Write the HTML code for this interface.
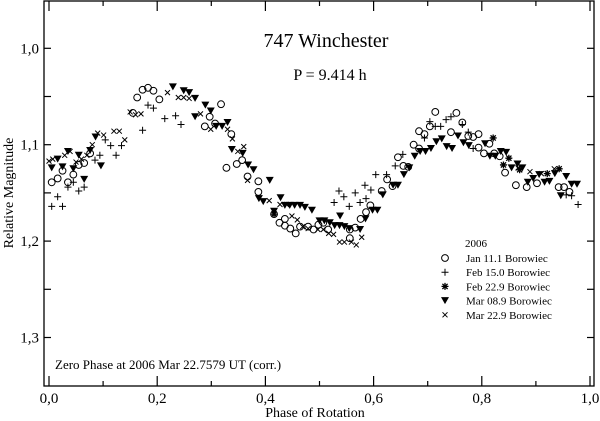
<!DOCTYPE html>
<html><head><meta charset="utf-8">
<style>
html,body{margin:0;padding:0;background:#fff;}
svg{display:block;font-family:"Liberation Serif",serif;}
</style></head>
<body>
<svg id="chart" width="600" height="421" viewBox="0 0 600 421" xmlns="http://www.w3.org/2000/svg">
<g id="axes"></g>
<g id="marks"></g>
<text x="326" y="47" font-size="20" text-anchor="middle">747 Winchester</text>
<text x="330" y="80" font-size="16" text-anchor="middle">P = 9.414 h</text>
<text x="55" y="369" font-size="13">Zero Phase at 2006 Mar 22.7579 UT (corr.)</text>
<text x="315" y="417" font-size="14" text-anchor="middle">Phase of Rotation</text>
<text transform="translate(13,193) rotate(-90)" font-size="14" text-anchor="middle">Relative Magnitude</text>
<g id="legend"></g>
</svg>
<script>
const xTicks=[0,0.2,0.4,0.6,0.8,1.0];
const xTickLabels=["0,0","0,2","0,4","0,6","0,8","1,0"];
const yTicks=[1.0,1.1,1.2,1.3];
const yTickLabels=["1,0","1,1","1,2","1,3"];
const seriesNames=["Jan 11.1 Borowiec","Feb 15.0 Borowiec","Feb 22.9 Borowiec","Mar 08.9 Borowiec","Mar 22.9 Borowiec"];
const janPhase=[0.005,0.016,0.025,0.035,0.045,0.055,0.065,0.076,0.155,0.163,0.173,0.183,0.193,0.204,0.288,0.297,0.307,0.318,0.328,0.337,0.347,0.357,0.367,0.387,0.387,0.416,0.426,0.436,0.436,0.446,0.456,0.464,0.479,0.489,0.498,0.507,0.516,0.556,0.556,0.566,0.576,0.586,0.594,0.615,0.625,0.635,0.645,0.655,0.664,0.674,0.684,0.684,0.694,0.704,0.714,0.743,0.753,0.764,0.775,0.784,0.794,0.794,0.804,0.814,0.823,0.833,0.843,0.863,0.883,0.902,0.942,0.952,0.962];
const janMag=[1.139,1.135,1.127,1.139,1.131,1.121,1.119,1.109,1.067,1.051,1.043,1.041,1.044,1.053,1.081,1.071,1.078,1.058,1.124,1.089,1.120,1.116,1.133,1.138,1.149,1.172,1.181,1.177,1.184,1.187,1.192,1.185,1.185,1.188,1.183,1.181,1.188,1.188,1.197,1.186,1.177,1.170,1.163,1.148,1.136,1.143,1.113,1.122,1.123,1.100,1.086,1.104,1.089,1.081,1.066,1.087,1.067,1.077,1.091,1.092,1.089,1.103,1.109,1.099,1.109,1.112,1.129,1.142,1.144,1.140,1.144,1.144,1.149];
const febPhase=[0.005,0.016,0.025,0.035,0.045,0.055,0.065,0.085,0.094,0.104,0.114,0.124,0.134,0.173,0.183,0.193,0.214,0.234,0.244,0.527,0.536,0.545,0.555,0.566,0.575,0.584,0.586,0.595,0.604,0.624,0.640,0.654,0.694,0.704,0.714,0.724,0.734,0.743,0.764,0.775,0.784,0.956,0.966,0.978];
const febMag=[1.164,1.154,1.164,1.144,1.139,1.148,1.144,1.116,1.111,1.095,1.101,1.111,1.101,1.085,1.059,1.062,1.073,1.070,1.079,1.160,1.148,1.154,1.164,1.150,1.160,1.142,1.156,1.147,1.131,1.131,1.122,1.110,1.093,1.076,1.081,1.081,1.074,1.071,1.079,1.087,1.104,1.152,1.153,1.162];
const feb22Phase=[0.416,0.821,0.840,0.850,0.870,0.921,0.943];
const feb22Mag=[1.172,1.093,1.121,1.114,1.126,1.130,1.125];
const marPhase=[0.005,0.016,0.025,0.035,0.045,0.055,0.065,0.076,0.086,0.096,0.229,0.249,0.259,0.270,0.270,0.289,0.299,0.309,0.320,0.330,0.338,0.358,0.368,0.378,0.388,0.396,0.408,0.416,0.428,0.436,0.445,0.454,0.464,0.473,0.486,0.500,0.509,0.519,0.528,0.537,0.538,0.546,0.555,0.575,0.585,0.598,0.607,0.617,0.636,0.645,0.656,0.666,0.676,0.686,0.696,0.706,0.716,0.726,0.735,0.745,0.756,0.766,0.776,0.806,0.815,0.825,0.835,0.845,0.855,0.866,0.875,0.885,0.895,0.906,0.916,0.925,0.935,0.946,0.956,0.966,0.976];
const marMag=[1.124,1.115,1.123,1.107,1.125,1.111,1.136,1.106,1.092,1.122,1.040,1.044,1.046,1.071,1.052,1.059,1.065,1.081,1.081,1.077,1.105,1.109,1.121,1.126,1.156,1.159,1.137,1.169,1.155,1.163,1.163,1.163,1.163,1.165,1.168,1.179,1.179,1.181,1.184,1.184,1.174,1.185,1.187,1.188,1.177,1.168,1.168,1.152,1.142,1.142,1.131,1.124,1.112,1.107,1.107,1.104,1.097,1.094,1.102,1.104,1.091,1.098,1.101,1.099,1.112,1.112,1.107,1.108,1.124,1.120,1.124,1.139,1.135,1.131,1.139,1.138,1.130,1.153,1.133,1.141,1.141];
const mar22Phase=[0.000,0.007,0.029,0.039,0.050,0.060,0.070,0.080,0.090,0.101,0.120,0.130,0.140,0.150,0.160,0.170,0.219,0.239,0.249,0.259,0.280,0.299,0.330,0.339,0.349,0.360,0.367,0.407,0.427,0.439,0.449,0.459,0.469,0.479,0.497,0.507,0.517,0.526,0.537,0.546,0.559,0.568,0.578,0.867,0.889,0.910,0.934];
const mar22Mag=[1.117,1.115,1.111,1.107,1.118,1.115,1.111,1.100,1.088,1.090,1.086,1.086,1.095,1.066,1.069,1.068,1.046,1.051,1.051,1.052,1.068,1.084,1.084,1.094,1.107,1.102,1.137,1.158,1.162,1.162,1.174,1.178,1.185,1.187,1.188,1.188,1.192,1.193,1.201,1.201,1.201,1.204,1.196,1.124,1.128,1.130,1.125];

const NS="http://www.w3.org/2000/svg";
const X0=49,X1=590,PL=44,PR=594,PT=1,PB=386;
function xs(p){return X0+(X1-X0)*p;}
function ys(m){return 48.3+(m-1.0)*964;}
function mk(tag,attrs,parent){const e=document.createElementNS(NS,tag);for(const k in attrs)e.setAttribute(k,attrs[k]);parent.appendChild(e);return e;}
const axes=document.getElementById('axes');
const frame=mk('rect',{x:PL,y:PT,width:PR-PL,height:PB-PT,fill:'none',stroke:'#000','stroke-width':1.3},axes);


for(let i=0;i<=10;i++){
  const p=i/10,x=xs(p),len=(i%2===0)?10:5;
  const t1=mk('line',{x1:x,y1:PB,x2:x,y2:PB-len,stroke:'#000','stroke-width':1.2},axes);
  
  
  const t2=mk('line',{x1:x,y1:PT,x2:x,y2:PT+len,stroke:'#000','stroke-width':1.2},axes);
  
  
}
xTicks.forEach((p,i)=>{
  const t=mk('text',{x:xs(p),y:403,'font-size':15,'text-anchor':'middle'},axes);
  t.textContent=xTickLabels[i];
  
  
});
for(let i=0;i<8;i++){
  const m=0.95+0.05*i,y=ys(m);
  if(y<=PT+1||y>=PB-1)continue;
  const a=mk('line',{x1:PL,y1:y,x2:PL+7,y2:y,stroke:'#000','stroke-width':1.2},axes);
  
  
  const b=mk('line',{x1:PR,y1:y,x2:PR-7,y2:y,stroke:'#000','stroke-width':1.2},axes);
  
  
}
yTicks.forEach((m,i)=>{
  const t=mk('text',{x:39,y:ys(m)+5,'font-size':15,'text-anchor':'end'},axes);
  t.textContent=yTickLabels[i];
  
  
});
function marker(type,x,y,parent){
  let e;
  if(type===0){e=mk('circle',{cx:x,cy:y,r:3.4,fill:'none',stroke:'#000','stroke-width':1},parent);}
  else if(type===1){e=mk('path',{d:`M${x-3.5} ${y}H${x+3.5}M${x} ${y-3.5}V${y+3.5}`,stroke:'#000','stroke-width':1},parent);}
  else if(type===2){e=mk('path',{d:`M${x-3.5} ${y}H${x+3.5}M${x} ${y-3.5}V${y+3.5}M${x-2.6} ${y-2.6}L${x+2.6} ${y+2.6}M${x-2.6} ${y+2.6}L${x+2.6} ${y-2.6}`,stroke:'#000','stroke-width':1.3},parent);}
  else if(type===3){e=mk('path',{d:`M${x-4} ${y-3.5}H${x+4}L${x} ${y+3.5}Z`,fill:'#000'},parent);}
  else {e=mk('path',{d:`M${x-2.5} ${y-2.5}L${x+2.5} ${y+2.5}M${x-2.5} ${y+2.5}L${x+2.5} ${y-2.5}`,stroke:'#000','stroke-width':1},parent);}
  return e;
}
const marks=document.getElementById('marks');
const sets=[[janPhase,janMag],[febPhase,febMag],[feb22Phase,feb22Mag],[marPhase,marMag],[mar22Phase,mar22Mag]];
const snames=['point-jan-11','point-feb-15','point-feb-22','point-mar-08','point-mar-22'];
sets.forEach((s,k)=>{
  s[0].forEach((p,i)=>{
    const e=marker(k,xs(p),ys(s[1][i]),marks);
    
    
  });
});
const lg=document.getElementById('legend');
const yr=mk('text',{x:465,y:247,'font-size':11},lg);
yr.textContent='2006';


seriesNames.forEach((n,k)=>{
  const y=258+14.2*k;
  const e=marker(k,445,y,lg);
  
  
  const t=mk('text',{x:466,y:y+4,'font-size':11},lg);
  t.textContent=n;
  
  
});
</script>
</body></html>
